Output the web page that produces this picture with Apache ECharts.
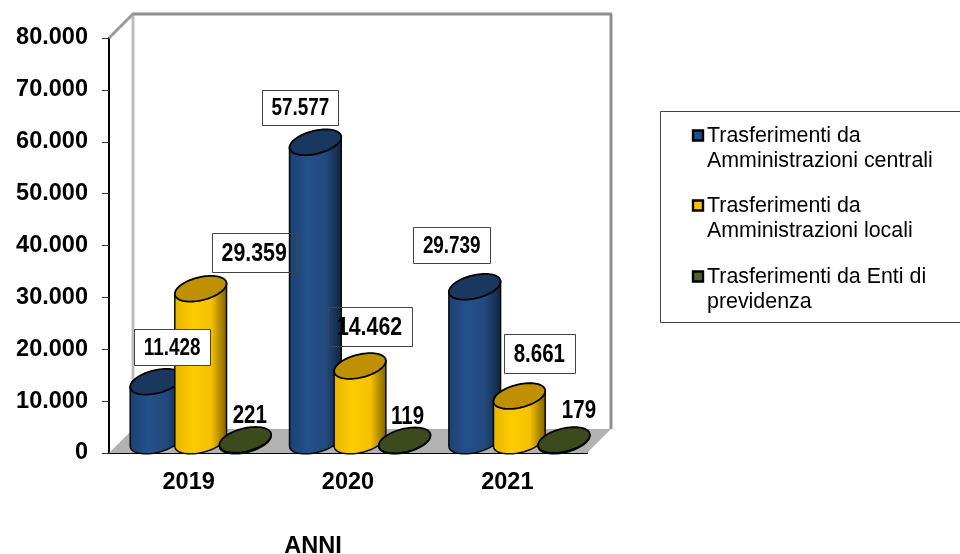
<!DOCTYPE html>
<html>
<head>
<meta charset="utf-8">
<style>html,body{margin:0;padding:0;background:#fff}#c{width:960px;height:554px}</style>
<script src="https://cdn.jsdelivr.net/npm/echarts@6/dist/echarts.min.js"></script>
</head>
<body>
<div id="c"></div>
<script>
// ---- data ----
const categories = ['2019', '2020', '2021'];
const centrali = [11428, 57577, 29739];
const locali = [29359, 14462, 8661];
const previdenza = [221, 119, 179];
const seriesNames = [
  'Trasferimenti da Amministrazioni centrali',
  'Trasferimenti da Amministrazioni locali',
  'Trasferimenti da Enti di previdenza'
];
const legendLines = [
  ['Trasferimenti da', 'Amministrazioni centrali'],
  ['Trasferimenti da', 'Amministrazioni locali'],
  ['Trasferimenti da Enti di', 'previdenza']
];
const xAxisTitle = 'ANNI';

// ---- styling / layout ----
const DEPTH = 24, A = 26.5, B = 11.5, TILT = -14 * Math.PI / 180, BAND_OFFSET = 0.28, LABEL_SQUEEZE = 0.82;
const FONT = '"Liberation Sans",Arial,sans-serif';
const looks = [
  { stops: ['#1b4170', '#24508a', '#22497c', '#0e2440'], top: '#19375f', swatch: '#1f4e8c' },
  { stops: ['#e5b400', '#ffcc00', '#f5c000', '#7a6000'], top: '#bf9000', swatch: '#ffc000' },
  { stops: ['#3c4a1e', '#3c4a1e', '#3c4a1e', '#3c4a1e'], top: '#3c4a1e', swatch: '#4f6228' }
];
// per series, per category: label centre offset from the cap centre, box size, font size, box fill
const labelLayout = [
  [{dx:16,dy:-35,w:76,h:36,fs:23,fill:'#fff'},{dx:-15,dy:-35,w:76,h:35,fs:23,fill:'#fff'},{dx:-23,dy:-42,w:77,h:36,fs:23,fill:'#fff'}],
  [{dx:53.5,dy:-36,w:84,h:39,fs:26,fill:null},{dx:9.5,dy:-39.5,w:84,h:39,fs:26,fill:null},{dx:20,dy:-42.5,w:71,h:39,fs:25,fill:'#fff'}],
  [{dx:4.5,dy:-25,fs:25},{dx:3,dy:-25,fs:25},{dx:15,dy:-30,fs:25}]
];
const fmt = v => String(v).replace(/\B(?=(\d{3})+(?!\d))/g, '.');

function ellipsePoint(cx, cy, t) {
  const c = Math.cos(TILT), s = Math.sin(TILT);
  return [cx + A * Math.cos(t) * c - B * Math.sin(t) * s,
          cy + A * Math.cos(t) * s + B * Math.sin(t) * c];
}
function cylinderRenderer(si) {
  return function (params, api) {
    const i = api.value(0), v = api.value(1);
    const band = api.size([1, 0])[0];
    const top = api.coord([i, v]), base = api.coord([i, 0]);
    const cx = top[0] + (si - 1) * BAND_OFFSET * band + DEPTH / 2;
    const topY = top[1] - DEPTH / 2, baseY = base[1] - DEPTH / 2;
    const t0 = Math.atan2(-B * Math.sin(TILT), A * Math.cos(TILT));
    const body = [ellipsePoint(cx, topY, t0)];
    for (let k = 0; k <= 36; k++) body.push(ellipsePoint(cx, baseY, t0 + Math.PI * k / 36));
    body.push(ellipsePoint(cx, topY, t0 + Math.PI));
    const cap = [];
    for (let k = 0; k < 72; k++) cap.push(ellipsePoint(cx, topY, 2 * Math.PI * k / 72));
    const s = looks[si].stops;
    return {
      type: 'group',
      children: [
        { type: 'polygon', shape: { points: body }, style: {
            fill: { type: 'linear', x: 0, y: 0, x2: 1, y2: 0, colorStops: [
              { offset: 0, color: s[0] }, { offset: 0.35, color: s[1] },
              { offset: 0.7, color: s[2] }, { offset: 1, color: s[3] }] },
            stroke: '#0a0a0a', lineWidth: 1.5 } },
        { type: 'polygon', shape: { points: cap }, style: { fill: looks[si].top, stroke: '#000', lineWidth: 1.8 } }
      ]
    };
  };
}
function labelRenderer(si) {
  return function (params, api) {
    const i = api.value(0), v = api.value(1);
    const band = api.size([1, 0])[0];
    const top = api.coord([i, v]);
    const l = labelLayout[si][i];
    const x = top[0] + (si - 1) * BAND_OFFSET * band + DEPTH / 2 + l.dx;
    const y = top[1] - DEPTH / 2 + l.dy;
    const children = [];
    if (l.w) children.push({ type: 'rect',
      shape: { x: Math.round(x - l.w / 2) + 0.5, y: Math.round(y - l.h / 2) + 0.5, width: l.w, height: l.h },
      style: { fill: l.fill || 'transparent', stroke: '#444', lineWidth: 1 } });
    children.push({ type: 'text', x: x, y: y + 1.5, scaleX: LABEL_SQUEEZE,
      style: { text: fmt(v), x: 0, y: 0, align: 'center', verticalAlign: 'middle',
        fill: '#000', fontFamily: FONT, fontWeight: 'bold', fontSize: l.fs } });
    return { type: 'group', children };
  };
}
function sceneRenderer(params) {
  const g = params.coordSys, L = g.x, R = g.x + g.width, T = g.y, Bt = g.y + g.height, D = DEPTH;
  const line = (x1, y1, x2, y2, c) => ({ type: 'line', shape: { x1, y1, x2, y2 }, style: { stroke: c, lineWidth: 3 } });
  return { type: 'group', children: [
    { type: 'polygon', shape: { points: [[L, Bt], [R, Bt], [R + D, Bt - D], [L + D, Bt - D]] }, style: { fill: '#b2b2b2' } },
    line(L + D, T - D, L + D, Bt - D, '#bdbdbd'),
    line(R + D, T - D, R + D, Bt - D, '#8f8f8f'),
    line(L + D - 1, T - D, R + D + 1, T - D, '#8f8f8f'),
    line(L, T, L + D, T - D, '#9a9a9a')
  ] };
}

const allValues = [centrali, locali, previdenza];
const toData = arr => arr.map((v, i) => [i, v]);
const series = [{
  type: 'custom', name: 'scene', silent: true, z: 1, renderItem: sceneRenderer, data: [[0, 0]]
}];
allValues.forEach((vals, si) => series.push({
  type: 'custom', name: seriesNames[si], z: 2 + si, silent: true,
  renderItem: cylinderRenderer(si), encode: { x: 0, y: 1 }, data: toData(vals)
}));
allValues.forEach((vals, si) => series.push({
  type: 'custom', name: seriesNames[si] + ' labels', z: 10, silent: true,
  renderItem: labelRenderer(si), encode: { x: 0, y: 1 }, data: toData(vals)
}));

// legend box built from the series names
const legendEls = [{ type: 'rect', shape: { x: 660.5, y: 111.5, width: 320, height: 211 },
  style: { fill: '#fff', stroke: '#444', lineWidth: 1 } }];
const legendTops = [135, 205, 276];
legendLines.forEach((ls, i) => {
  legendEls.push({ type: 'rect', shape: { x: 693, y: legendTops[i] - 4.5, width: 10, height: 10 },
    style: { fill: looks[i].swatch, stroke: '#000', lineWidth: 2.4 } });
  ls.forEach((t, j) => legendEls.push({ type: 'text', style: { text: t, x: 707, y: legendTops[i] + 1.5 + j * 25,
    verticalAlign: 'middle', fill: '#000', fontFamily: FONT, fontSize: 21.4 } }));
});

const chart = echarts.init(document.getElementById('c'), null, { renderer: 'canvas' });
chart.setOption({
  animation: false,
  backgroundColor: '#fff',
  grid: { left: 109, right: 373, top: 38, bottom: 101, outerBoundsMode: 'none' },
  xAxis: {
    type: 'category', data: categories,
    name: xAxisTitle, nameLocation: 'middle', nameGap: 82,
    nameTextStyle: { color: '#000', fontWeight: 'bold', fontSize: 23.5, padding: [0, 70, 0, 0], fontFamily: FONT },
    axisLine: { lineStyle: { color: '#000', width: 2 } },
    axisTick: { length: 7, alignWithLabel: false, lineStyle: { color: '#333', width: 1 } },
    axisLabel: { color: '#000', fontWeight: 'bold', fontSize: 23.5, margin: 18, fontFamily: FONT },
    splitLine: { show: false }
  },
  yAxis: {
    type: 'value', min: 0, max: 80000, interval: 10000,
    axisLine: { show: true, lineStyle: { color: '#000', width: 2 } },
    axisTick: { show: true, length: 7, lineStyle: { color: '#333', width: 1 } },
    axisLabel: { color: '#000', fontWeight: 'bold', fontSize: 23.5, margin: 21, padding: [5, 0, 0, 0], fontFamily: FONT, formatter: v => fmt(v) },
    splitLine: { show: false }
  },
  series,
  graphic: legendEls
});
</script>
</body>
</html>
